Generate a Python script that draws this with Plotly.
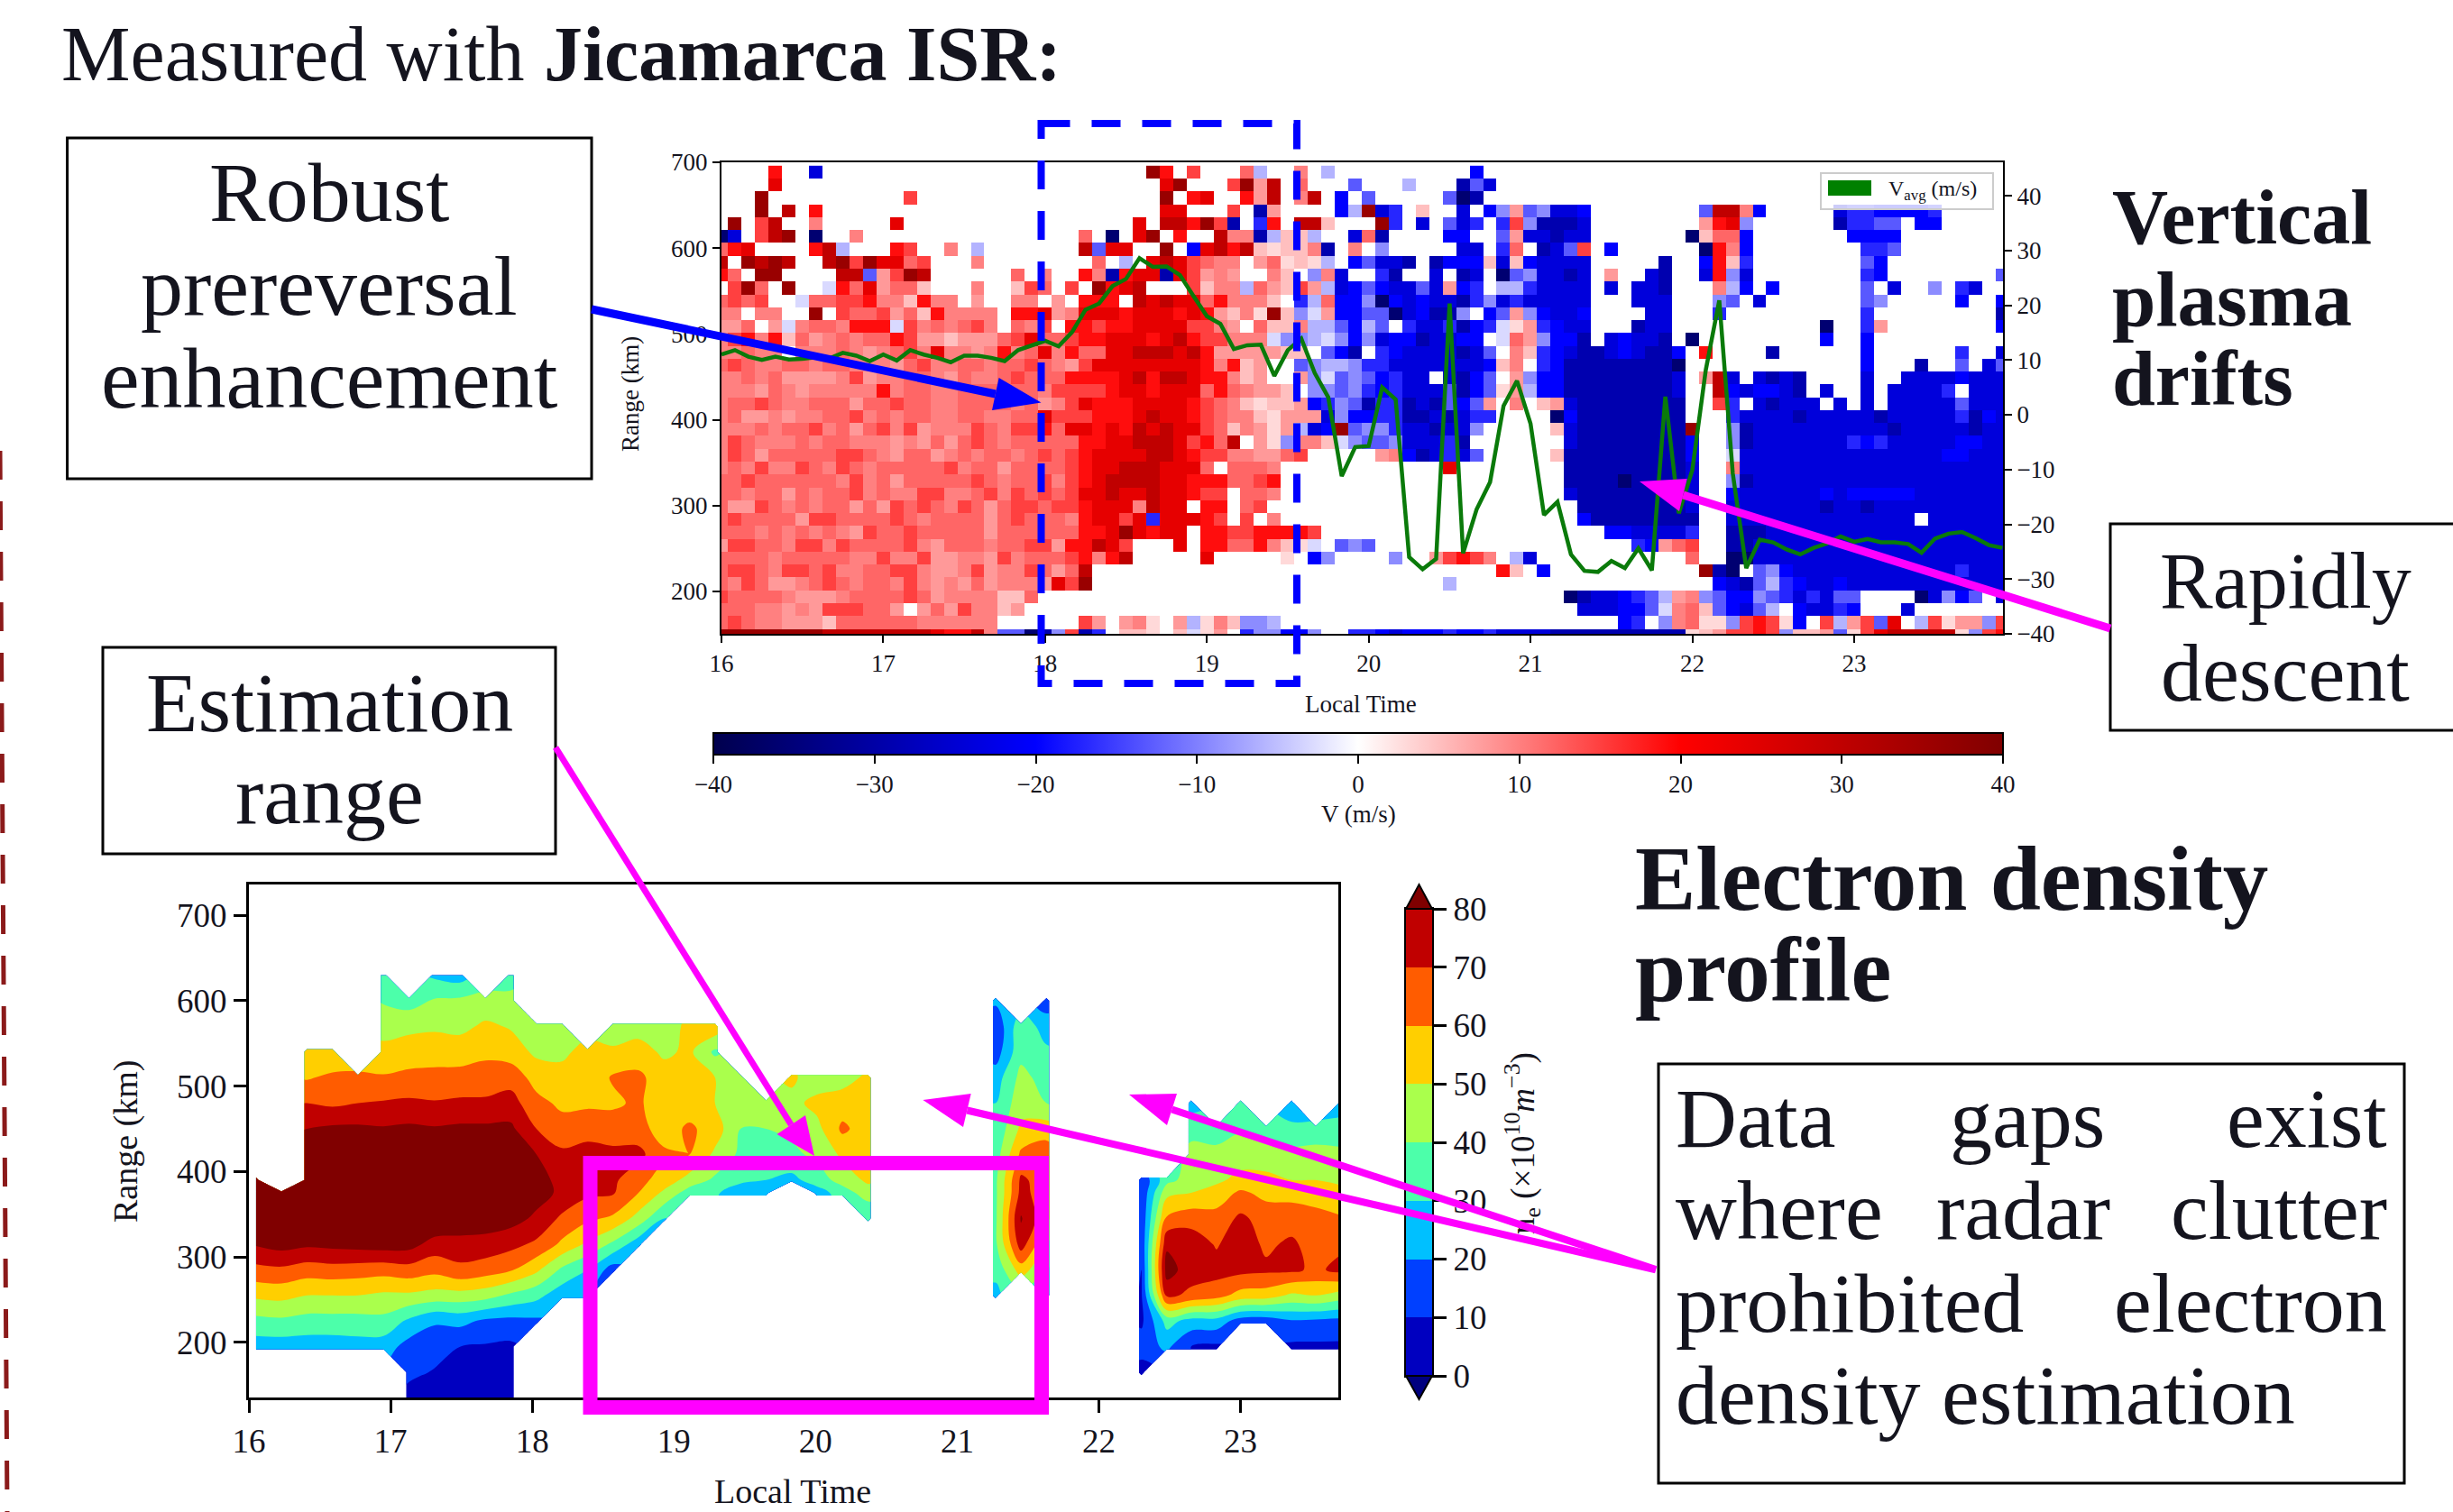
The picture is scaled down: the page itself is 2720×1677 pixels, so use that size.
import numpy as np
import plotly.graph_objects as go

W, H = 2720, 1677
SERIF = "Liberation Serif"
INK = "#14141e"
MAGENTA = "#ff00ff"
BLUE = "#0000ff"

# ---- drift heatmap: one character per 5-minute cell, rows from top (688.5 km) to bottom (148.5 km)
drift_levels = {".": None, "1": 3, "2": 5, "3": 8, "4": 10, "5": 12, "6": 15, "7": 19, "8": 24, "9": 30, "0": 36,
                "a": -3, "b": -6, "c": -9, "d": -13, "e": -17, "f": -20, "g": -24, "h": -29, "i": -36}

drift_16_18 = [
"....7..g................","....8...................","...0..........6.........","...0.9.7................",
".0.69..4.....8..........","ig.690.i..4.............","578....79b...76..4.b....","9.0909..90608856...4....",
"75.00....99d3609......5.",".605.0..a7583552...4..26","5656..a55667442744.3..44","44.44..0.655635274444.77",
"335.3a4554777a6454564.54","467472534545576332333568","44544.444543456484434745","565445545544435644554556",
"445453333463445543544565","444354344444745544555555","455654455535565544555545","453343445564545544554455",
"444545564535646344465466","465444545544434353565455","465355555665435534545545","454644654654555556455355",
"556555555464535555565455","554553545564544664456465","533654545535365654653566","565555366555565455553565",
"555454545436556555553555","366554664655556435554556","555545555544644633443645","566546656445566433463446",
"546533456545546434353444","655554333455556534444225","55544343666553.35364423.","565443332555555444444...",
"000000009999999987794ddi"]

drift_18_20 = [
"........07.6...5b..4.b..",".........80...6039.5...d",".........0.78..739.49.f.",".........88...6.h3....fb",
".......8.99706h.e7.992..","...5.i.80.7..944hb22b..g","...9d88..0.f897921224h.4","....5.b.8986544.35121b.f",
"4..74h788h86343..42.c4g.","5.6.0789...6244b53263bgf",".3.777.98988574442.eb5ff","8348887888787324102ca3ff",
"6.7767788886643.5224bbdf","55677888789766444accbacf","84755889998973333322.dfh","54368888888874723..dcbbc",
"55777789799877423..3cadc","4666678878885754332.ccdc","34687778888765421223fecd","866677789887654421333gcf",
"7588787989886524313bgf0d","555778899986759.31c442ac","65678888998766443356....","5567889998885.5554......",
"646789999887775567......","65688988988766.554......","56678884988.77.56.......","55478868e88876.6.4......",
"55577808788.776677776...","6377986...8.77557421a.dc","5567479.....8.....1.fc..","5359....................",
"3860....................","........................","........................","...63.341.3b142ccb......",
"hc6he.221.2a13.eccffc..e"]

drift_20_22 = [
"........f...............","...b...hdg..............","d.....dih...............","0ge.2..g.fc3dcggf.......",
".0e.g.dge.e6chhhg.......","5h....ff..d3gghgg.......",".c.....gg.e5.hgd6.f.....","dggh.hfff2g2fgggg.....h.",
".eh..g.hg.idcgghg.3..gh.","dfggdg3fe.bbegggg.g.ggh.","cifgfgghecgeggggg...ggg.","ddigfhhc.fd3cfggf....gg.",
"bd.eggehfea13efgg...hgg.","cgffhggff.a53cffh.gfggh.",".efgggghgd.42efghhgfghhf","eegggggggf24.efhhhhhhhhi",
"dfegg.ghfd.3cffhhhhhhhhg","efegggdhfd13bffhhhhhhhhg","heehghdfd3.4.23ghhhhhhhh","feehhghgee....ifhhhhhhhh",
"ccegghggc.....2ghhhhhhhh","ddcgggeh.......ghhhhhhhh",".34fhgegd.....2hhhhhhhhh","......8........hhhhhhhhh",
"...............hhhhihhhh","...............ghhhhhhhh","................hhhhhhhh","................fhhhhhhh",
"..................ffgggg","d...................ef35","..c..36764.bg...........","..........72.f..........",
"......b.................","...............ihggfedb3","................gggffda4","...................fe.c4",
"efgfffeffegggghhhhhhhhhh"]

drift_22_24 = [
"........................","........................","........................",".d994f.....geeffffe.....",
".378c......heedd.ff.....","i255f.......ffff........",".i74f........eed........",".f72e........df.........",
".g7cg........ef........d","..4bf.f......d.g..c.eg..","..cd.g.......dc.....f..f","..e..........e.........h",
"..........i..e3........f","i.........f..f..........",".7....h......f......e..g",".............f...h..d.gd",
".39g.ghgh....g..ggggfggg","..9fgffgh.g..g.gggge.ggg","..6e.ghggg.g.g.gggggdggg","...egggghggggghgggggehfg",
"0..chgggggggggghggggghgg","f..chgggggggefegggggffgg","f..agggggggggggggggffggg","g..4gggggggggggggggggggg",
"g..chggggggggggggggggggg","g..fggggggfgfffffggggggg","g..ggggggghgghgggggggggg","h..gggggggggggggg.gggggg",
"e..hhhgggggggggggggggggg","6..hhggggggggggggggggggg","5..iiggggggggggggggggggg",".0hi.dcfggggggggggggeggg",
"..fghdbefggfgggggggggggg","4cdffcdegegdd....igcfd.g","52dfgdb.fggef...g.......","511c6761f.6b36d8.b6133c6",
"1236676c223d168999991c67"]

# ---- mean drift line, one value every 5 minutes from 16:00
vavg = [11.0,11.8,10.6,10.0,10.6,10.1,10.2,10.5,10.3,11.3,10.8,9.8,11.0,9.9,11.8,11.0,10.4,9.6,10.8,10.8,10.4,9.8,
        11.8,12.6,13.5,12.5,15.1,19.2,20.3,23.5,24.8,28.6,27.0,27.1,25.5,21.7,18.0,16.6,12.0,12.7,12.8,7.1,11.8,
        13.9,7.6,3.2,-11.2,-5.9,-5.7,5.0,2.8,-26.0,-28.2,-26.3,20.3,-25.3,-17.3,-12.3,1.6,6.2,-1.6,-18.3,-15.9,
        -25.5,-28.5,-28.7,-26.7,-28.0,-24.4,-28.4,3.3,-18.0,-10.1,8.2,20.9,-10.7,-28.0,-22.8,-23.3,-24.6,-25.5,
        -24.3,-23.5,-22.2,-23.2,-22.7,-23.3,-23.3,-23.6,-25.2,-22.6,-21.7,-21.4,-22.5,-23.8,-24.3]

# ---- electron density: columns of values at these times and ranges
N = None
ne_range = [135,165,195,225,255,285,315,345,375,390,420,450,480,510,540,570,600,630]
ne_time = [16.05,16.23,16.41,16.59,16.77,16.95,17.13,17.31,17.49,17.67,17.85,18.03,18.21,18.39,18.57,18.75,18.93,
           19.11,19.29,19.47,19.65,19.83,20.01,20.19,20.37,20.55,20.73,20.91,21.09,21.27,21.45,21.63,21.81,21.97,
           22.13,22.30,22.48,22.65,22.83,23.00,23.18,23.36,23.53,23.71]
ne_columns = [
 [N,N,25,37,52,67,81,88,88,85,N,N,N,N,N,N,N,N],
 [N,N,25,38,53,68,84,90,86,N,N,N,N,N,N,N,N,N],
 [N,N,25,36,50,65,82,90,92,92,90,80,70,59,52,N,N,N],
 [N,N,25,36,50,66,83,92,93,94,92,82,68,62,52,N,N,N],
 [N,N,26,36,50,65,84,93,95,95,93,82,70,62,N,N,N,N],
 [N,N,25,37,48,64,85,92,95,95,93,81,71,61,53,46,39,34],
 [5,13,16,28,48,66,84,92,94,95,94,82,72,62,56,47,36,N],
 [3,9,15,21,46,63,76,90,94,95,94,81,71,62,57,48,41,28],
 [3,5,10,23,46,68,75,90,94,95,94,82,72,63,56,47,42,25],
 [3,5,9,18,44,65,76,86,94,95,94,82,72,64,58,52,43,N],
 [3,5,8,17,38,61,73,84,92,94,92,82,74,66,55,49,42,37],
 [N,N,N,18,33,52,68,78,84,85,80,70,63,56,48,43,N,N],
 [N,N,N,N,24,38,58,68,78,76,72,64,58,55,47,41,N,N],
 [N,N,N,N,20,30,48,62,72,73,73,67,58,54,55,N,N,N],
 [N,N,N,N,N,15,38,58,71,72,72,66,58,61,53,40,N,N],
 [N,N,N,N,N,N,24,46,60,63,73,64,62,62,55,45,N,N],
 [N,N,N,N,N,N,N,30,48,56,62,55,52,55,48,46,N,N],
 [N,N,N,N,N,N,N,N,35,46,60,62,54,53,52,52,N,N],
 [N,N,N,N,N,N,N,N,32,38,48,55,50,50,38,57,N,N],
 [N,N,N,N,N,N,N,N,22,33,38,40,45,46,N,N,N,N],
 [N,N,N,N,N,N,N,N,25,30,37,40,45,N,N,N,N,N],
 [N,N,N,N,N,N,N,N,N,27,38,42,47,52,N,N,N,N],
 [N,N,N,N,N,N,N,N,25,35,42,47,53,44,N,N,N,N],
 [N,N,N,N,N,N,N,N,35,44,52,62,55,46,N,N,N,N],
 [N,N,N,N,N,N,N,30,45,52,55,55,55,52,N,N,N,N],
 [N]*18,[N]*18,[N]*18,[N]*18,
 [N,N,N,N,28,32,38,38,38,38,35,32,30,25,15,12,22,N],
 [N,N,N,N,N,55,75,81,73,72,62,52,46,43,37,37,N,N],
 [N,N,N,N,30,40,50,62,65,65,66,55,40,36,32,25,15,N],
 [N]*18,[N]*18,[N]*18,
 [N,5,15,8,9,10,12,12,12,12,N,N,N,N,N,N,N,N],
 [N,N,22,34,72,85,78,62,47,37,N,N,N,N,N,N,N,N],
 [N,N,10,26,68,74,76,66,50,44,42,38,25,N,N,N,N,N],
 [N,N,8,26,64,74,69,64,54,48,43,35,N,N,N,N,N,N],
 [N,N,N,15,56,73,76,72,62,53,45,39,32,N,N,N,N,N],
 [N,N,N,14,55,72,68,66,57,52,46,35,N,N,N,N,N,N],
 [N,N,8,19,48,72,72,65,57,50,43,33,22,N,N,N,N,N],
 [N,N,8,18,50,68,65,63,56,50,45,32,N,N,N,N,N,N],
 [N,N,8,17,45,73,68,61,53,48,42,35,24,N,N,N,N,N],
]

ne_band_colors = ["#0000c0","#0040ff","#00c0ff","#4cffaa","#aaff4c","#ffcf00","#ff5c00","#c00000","#800000"]
ne_bar_levels = [0,10,20,30,40,50,60,70,80]
ne_bar_mids = [5,15,25,35,45,55,65,75]
x_hours = [16,17,18,19,20,21,22,23]
top_ranges = [200,300,400,500,600,700]
right_ticks = [-40,-30,-20,-10,0,10,20,30,40]
drift_bar_ticks = [-40,-30,-20,-10,0,10,20,30,40]

# ---------------------------------------------------------------------------
rows = [a + b + c + d for a, b, c, d in zip(drift_16_18, drift_18_20, drift_20_22, drift_22_24)]
for r_i, r in enumerate(rows):
    if len(r) != 96:
        print("bad row", r_i, len(r))
drift_z = [[drift_levels[ch] for ch in r] for r in rows][::-1]
drift_x = [16 + k / 12 for k in range(96)]
drift_y = [148.5 + 15 * r for r in range(len(drift_z))]

def fx(x): return x / W
def fy(y): return 1 - y / H

seismic = [[0, "#00004d"], [0.25, "#0000ff"], [0.5, "#ffffff"], [0.75, "#ff0000"], [1, "#800000"]]
# colour bar: nine equal bands
disc = []
for i, c in enumerate(ne_band_colors):
    disc += [[i / 9, c], [(i + 1) / 9, c]]
# contour fill: plotly samples the scale at k/9 for the band above level 10*(k-1)
disc_fill = [[0, ne_band_colors[0]], [1.5 / 9, ne_band_colors[0]]]
for k, c in enumerate(ne_band_colors[1:], start=2):
    disc_fill += [[(k - 0.5) / 9, c], [min(1, (k + 0.5) / 9), c]]

fig = go.Figure()
fig.add_trace(go.Heatmap(x=drift_x, y=drift_y, z=drift_z, colorscale=seismic, zmin=-40, zmax=40, xaxis="x", yaxis="y",
    hoverongaps=False, xgap=0, ygap=0,
    colorbar=dict(orientation="h", x=fx(791), xanchor="left", y=fy(812.5), yanchor="top", thickness=24,
                  thicknessmode="pixels", len=1430, lenmode="pixels", xpad=0, ypad=0, outlinecolor="#000", outlinewidth=2,
                  tickvals=drift_bar_ticks, ticks="outside", ticklen=9, tickwidth=2, tickcolor="#000",
                  tickfont=dict(family=SERIF, size=27, color=INK))))
fig.add_trace(go.Scatter(x=drift_x, y=vavg, mode="lines", line=dict(color="#0a7a0a", width=4.5), xaxis="x", yaxis="y2",
                         showlegend=False))
z_ne = np.array(ne_columns, dtype=float).T
fig.add_trace(go.Contour(x=ne_time, y=ne_range, z=z_ne.tolist(), xaxis="x3", yaxis="y3", colorscale=disc_fill,
                         showscale=False, connectgaps=False, line=dict(width=0),
                         contours=dict(coloring="fill", start=0, end=80, size=10, showlines=False)))
fig.add_trace(go.Heatmap(x=[0, 1], y=ne_bar_levels, z=[[m] for m in ne_bar_mids], colorscale=disc, zmin=0, zmax=90,
                         showscale=False, xaxis="x4", yaxis="y4"))

def ax_common(size):
    return dict(showgrid=False, zeroline=False, showline=True, linecolor="#000", ticks="outside",
                tickfont=dict(family=SERIF, size=size, color=INK), tickcolor="#000")

fig.update_layout(
    width=W, height=H, margin=dict(l=0, r=0, t=0, b=0, autoexpand=False), paper_bgcolor="white", plot_bgcolor="white", showlegend=False,
    xaxis=dict(domain=[fx(800), fx(2221)], range=[16, 23.92], tickvals=x_hours, mirror=True, linewidth=2, ticklen=8, tickwidth=2,
               anchor="y", **ax_common(27)),
    yaxis=dict(domain=[fy(703), fy(180)], range=[150.6, 700], tickvals=top_ranges, linewidth=2, ticklen=8, tickwidth=2,
               anchor="x", **ax_common(27)),
    yaxis2=dict(domain=[fy(703), fy(180)], range=[-40, 46.1], tickvals=right_ticks, overlaying="y", side="right", anchor="x",
                linewidth=2, ticklen=8, tickwidth=2, **ax_common(27)),
    xaxis3=dict(domain=[fx(276), fx(1484)], range=[16, 23.69], tickvals=x_hours, mirror=True, linewidth=3, ticklen=14, tickwidth=3,
                anchor="y3", **ax_common(37)),
    yaxis3=dict(domain=[fy(1550), fy(981)], range=[135.6, 735.9], tickvals=top_ranges, mirror=True, linewidth=3, ticklen=14,
                tickwidth=3, anchor="x3", **ax_common(37)),
    xaxis4=dict(domain=[fx(1559), fx(1588)], range=[0, 1], showticklabels=False, ticks="", showgrid=False, zeroline=False,
                showline=True, linecolor="#000", linewidth=2, mirror=True, anchor="y4"),
    yaxis4=dict(domain=[fy(1526), fy(1008)], range=[0, 80], tickvals=ne_bar_levels, side="right", anchor="x4", linewidth=2,
                ticklen=14, tickwidth=3, mirror=True, **ax_common(37)),
)

shapes, anns = [], []

def rect(x0, y0, x1, y1, line="#000", lw=3, fill="rgba(0,0,0,0)", dash=None):
    shapes.append(dict(type="rect", xref="paper", yref="paper", x0=fx(x0), y0=fy(y0), x1=fx(x1), y1=fy(y1),
                       line=dict(color=line, width=lw, dash=dash or "solid"), fillcolor=fill, layer="above"))

def tri(p1, p2, p3, color, line_width=0):
    path = "M %f,%f L %f,%f L %f,%f Z" % (fx(p1[0]), fy(p1[1]), fx(p2[0]), fy(p2[1]), fx(p3[0]), fy(p3[1]))
    shapes.append(dict(type="path", xref="paper", yref="paper", path=path, fillcolor=color,
                       line=dict(color="#000" if line_width else color, width=line_width), layer="above"))

def seg(x0, y0, x1, y1, color, lw, dash=None):
    shapes.append(dict(type="line", xref="paper", yref="paper", x0=fx(x0), y0=fy(y0), x1=fx(x1), y1=fy(y1),
                       line=dict(color=color, width=lw, dash=dash or "solid"), layer="above"))

later_arrows = []

def arrow(tail, tip, b1, b2, color, lw, as_annotation=False):
    mid = ((b1[0] + b2[0]) / 2, (b1[1] + b2[1]) / 2)
    tri(tip, b1, b2, color)
    if as_annotation:
        later_arrows.append((tail, mid, color, lw))
    else:
        seg(tail[0], tail[1], mid[0], mid[1], color, lw)

def text(x, y, s, size, anchor="center", color=INK, angle=0):
    anns.append(dict(xref="paper", yref="paper", x=fx(x), y=fy(y), text=s, showarrow=False, xanchor=anchor, yanchor="middle",
                     textangle=angle, font=dict(family=SERIF, size=size, color=color)))

# chart labels
text(699, 437, "Range (km)", 27, angle=-90)
text(1509, 781, "Local Time", 27)
text(1506, 903, "V (m/s)", 27)
text(139, 1266, "Range (km)", 38, angle=-90)
text(879, 1654, "Local Time", 38)
text(1688, 1268, "n<sub>e</sub> (×10<sup>10</sup><i>m</i><sup>−3</sup>)", 37, angle=-90)

# colorbar end triangles
tri((1559, 1008), (1588, 1008), (1573.5, 981), "#800000", 2)
tri((1559, 1526), (1588, 1526), (1573.5, 1552), "#00007f", 2)

# legend of the line
rect(2019, 192, 2210, 232, line="#cccccc", lw=2, fill="rgba(255,255,255,0.8)")
rect(2027, 200, 2075, 217, line="#008000", lw=0, fill="#008000")
text(2092, 211, "V<sub>avg</sub> (m/s)", 24, anchor="left")

# annotation boxes
rect(74.6, 153, 656, 531, fill="#ffffff")
text(365, 213, "Robust", 94); text(365, 317, "prereversal", 94); text(365, 420, "enhancement", 96)
rect(114, 718, 616, 947, fill="#ffffff")
text(365, 779, "Estimation", 94); text(365, 881, "range", 94)
rect(2340, 581, 2730, 810, fill="#ffffff")
text(2534, 644, "Rapidly", 88); text(2534, 746, "descent", 92)

# dashed window and estimation box
rect(1154.5, 137, 1438, 758, line=BLUE, lw=8, dash="32px,24px")
rect(654.5, 1290, 1155, 1561, line=MAGENTA, lw=16)

# arrows
arrow((656, 343), (1154.5, 446.6), (1107.6, 419), (1100, 455), BLUE, 9)
arrow((2340, 697), (1818, 534), (1870.7, 531), (1862, 567), MAGENTA, 9)
arrow((616, 829), (903, 1282), (893, 1237), (861.5, 1258), MAGENTA, 7)
arrow((1839, 1409), (1023.4, 1220), (1076.7, 1213), (1068, 1250), MAGENTA, 8, as_annotation=True)
arrow((1839, 1409), (1252, 1214), (1305, 1213), (1294, 1248), MAGENTA, 8, as_annotation=True)

# data-gap box, drawn after the arrow tails
rect(1839, 1180, 2666, 1645, fill="#ffffff")
text(1856, 1240, "Data", 94, anchor="left"); text(2248, 1240, "gaps", 94); text(2649, 1240, "exist", 94, anchor="right")
text(1856, 1342, "where", 94, anchor="left"); text(2243, 1342, "radar", 94); text(2649, 1342, "clutter", 94, anchor="right")
text(1856, 1445, "prohibited", 94, anchor="left"); text(2649, 1445, "electron", 94, anchor="right")
text(1856, 1547, "density estimation", 94, anchor="left")

# headings
text(66, 60, "Measured with <b>Jicamarca ISR:</b>", 86, anchor="left")
text(2340, 241, "<b>Vertical</b>", 86, anchor="left")
text(2340, 331, "<b>plasma</b>", 87, anchor="left")
text(2340, 420, "<b>drifts</b>", 86, anchor="left")
text(1811, 975, "<b>Electron density</b>", 101, anchor="left")
text(1811, 1076, "<b>profile</b>", 101, anchor="left")

# slide edge
seg(0, 500, 8, 1677, "#8b1a1a", 5, dash="32px,24px")

# arrow shafts that must cover the rotated colour-bar label
for tail, mid, color, lw in later_arrows:
    anns.append(dict(xref="paper", yref="paper", x=fx(mid[0]), y=fy(mid[1]), text=" ", showarrow=True, arrowhead=0,
                     arrowwidth=lw, arrowcolor=color, axref="pixel", ayref="pixel",
                     ax=tail[0] - mid[0], ay=tail[1] - mid[1], xanchor="center", yanchor="middle"))

fig.update_layout(shapes=shapes, annotations=anns)
fig.write_html("out.html", config={"displayModeBar": False},
               post_script="document.body.style.margin='0';document.body.style.background='white';")
